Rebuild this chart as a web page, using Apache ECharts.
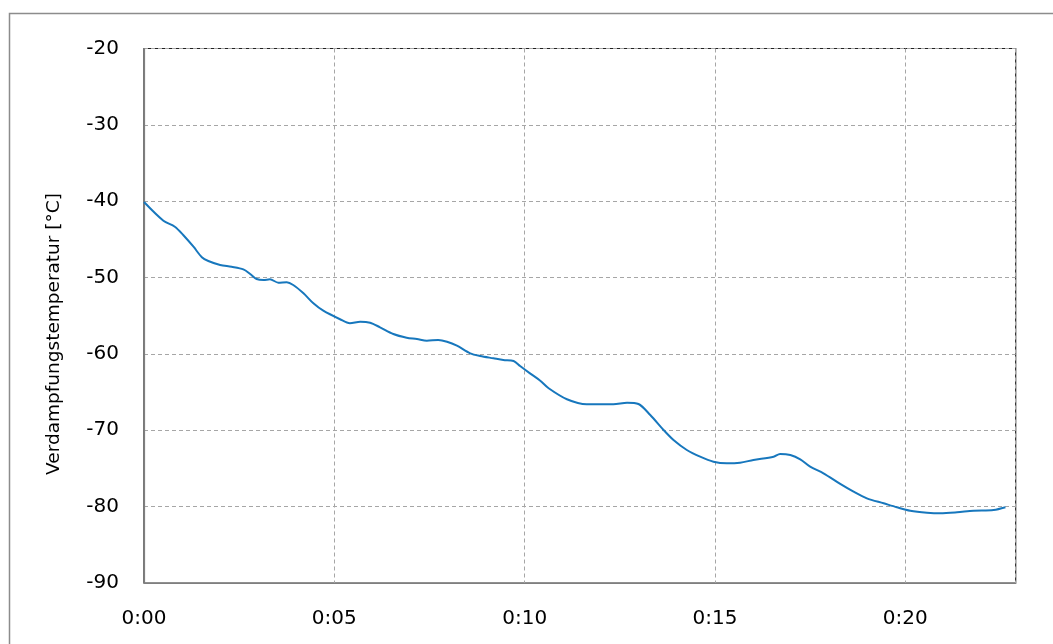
<!DOCTYPE html>
<html><head><meta charset="utf-8">
<script src="https://cdn.jsdelivr.net/npm/echarts@6/dist/echarts.min.js"></script>
<style>html,body{margin:0;padding:0;background:#fff}#c{width:1053px;height:644px}</style>
</head><body><div id="c"></div>
<script>
const timeMin = [0,0.51,0.81,1.03,1.30,1.52,1.69,2.00,2.30,2.61,2.79,2.96,3.14,3.31,3.53,3.75,3.92,4.19,4.45,4.71,5.15,5.41,5.68,5.94,6.20,6.55,6.90,7.17,7.43,7.73,7.96,8.22,8.57,8.83,9.18,9.44,9.71,9.88,10.14,10.41,10.63,11.11,11.63,11.98,12.33,12.69,12.99,13.30,13.65,13.91,14.26,14.61,14.96,15.31,15.66,16.01,16.54,16.71,16.98,17.24,17.50,17.85,18.29,18.64,18.99,19.43,19.78,20.13,20.57,20.92,21.36,21.79,22.32,22.63];
const temperature = [-40.1,-42.55,-43.34,-44.42,-45.96,-47.34,-47.83,-48.35,-48.58,-48.92,-49.53,-50.19,-50.32,-50.23,-50.67,-50.62,-50.97,-52.06,-53.37,-54.34,-55.46,-55.99,-55.78,-55.91,-56.51,-57.39,-57.87,-58.04,-58.27,-58.17,-58.40,-58.92,-59.92,-60.27,-60.57,-60.79,-60.92,-61.58,-62.54,-63.51,-64.50,-65.94,-66.60,-66.60,-66.60,-66.39,-66.56,-68.00,-69.96,-71.27,-72.58,-73.46,-74.11,-74.32,-74.24,-73.89,-73.46,-73.10,-73.24,-73.80,-74.77,-75.63,-77.03,-78.04,-78.91,-79.56,-80.08,-80.53,-80.79,-80.87,-80.74,-80.53,-80.44,-80.08];
const xTickLabels = ["0:00","0:05","0:10","0:15","0:20"];
const yTitle = "Verdampfungstemperatur [°C]";

const chart = echarts.init(document.getElementById('c'));
const font = '"DejaVu Sans", sans-serif';
chart.setOption({
  animation: false,
  graphic: [
    {type:'rect', left:7, top:11, shape:{width:1100, height:700}, style:{fill:'none', stroke:'#8c8c8c', lineWidth:1.5}, z:-1},
    {type:'text', x:54, y:334, rotation:Math.PI/2, style:{text:yTitle, fontFamily:font, fontSize:18.5, fill:'#000', align:'center', verticalAlign:'middle'}}
  ],
  grid: {left:144, top:48.5, right:37.3, bottom:61, show:true, borderColor:'#222', borderWidth:1.2, backgroundColor:'transparent'},
  xAxis: {
    type:'value', min:0, max:22.9, interval:5,
    axisLine:{show:true, lineStyle:{color:'#7f7f7f', width:1.2}},
    axisTick:{show:false},
    splitLine:{show:true, lineStyle:{type:[4,3], color:'#a6a6a6', width:1}},
    axisLabel:{formatter:v=>xTickLabels[Math.round(v/5)] ?? '', fontFamily:font, fontSize:20, color:'#000', margin:26, showMaxLabel:false}
  },
  yAxis: {
    type:'value', min:-90, max:-20, interval:10,
    axisLine:{show:true, lineStyle:{color:'#7f7f7f', width:1.2}},
    axisTick:{show:false},
    splitLine:{show:true, lineStyle:{type:[4,3], color:'#a6a6a6', width:1}},
    axisLabel:{fontFamily:font, fontSize:20, color:'#000', margin:25}
  },
  series: [{
    type:'line', showSymbol:false, smooth:0.3,
    data: timeMin.map((t,i)=>[t, temperature[i]]),
    lineStyle:{color:'#1777bd', width:2}
  }]
});
</script></body></html>
